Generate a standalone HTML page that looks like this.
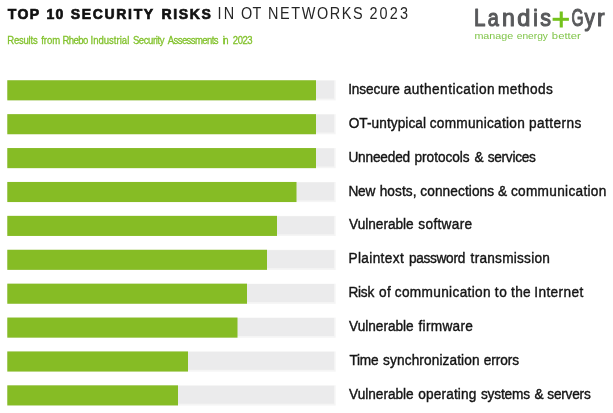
<!DOCTYPE html>
<html><head><meta charset="utf-8"><title>Top 10 Security Risks in OT Networks 2023</title>
<style>
html,body{margin:0;padding:0;background:#fff;}
body{width:613px;height:413px;overflow:hidden;position:relative;font-family:"Liberation Sans",sans-serif;}
svg{position:absolute;left:0;top:0;display:block;will-change:transform}
text{font-family:"Liberation Sans",sans-serif;}
</style></head><body>
<svg width="613" height="413" viewBox="0 0 613 413">

<text transform="translate(7.86,18.85) scale(0.95,1)" font-size="14.8" fill="#111111" letter-spacing="1.45" font-weight="700" stroke="#111111" stroke-width="0.7">TOP</text>
<text transform="translate(46.62,18.85) scale(0.95,1)" font-size="14.8" fill="#111111" letter-spacing="1.16" font-weight="700" stroke="#111111" stroke-width="0.7">10</text>
<text transform="translate(70.81,18.85) scale(0.95,1)" font-size="14.8" fill="#111111" letter-spacing="1.71" font-weight="700" stroke="#111111" stroke-width="0.7">SECURITY</text>
<text transform="translate(161.49,18.85) scale(0.95,1)" font-size="14.8" fill="#111111" letter-spacing="1.72" font-weight="700" stroke="#111111" stroke-width="0.7">RISKS</text>
<text transform="translate(217.50,19.15) scale(0.92,1)" font-size="15.7" fill="#262626" letter-spacing="2.51">IN</text>
<text transform="translate(241.05,19.15) scale(0.92,1)" font-size="15.7" fill="#262626" letter-spacing="0.32">OT</text>
<text transform="translate(267.94,19.15) scale(0.92,1)" font-size="15.7" fill="#262626" letter-spacing="1.76">NETWORKS</text>
<text transform="translate(369.38,19.15) scale(0.92,1)" font-size="15.7" fill="#262626" letter-spacing="2.40">2023</text>
<text transform="translate(7.29,43.60) scale(0.9,1)" font-size="10.6" fill="#83c22e" letter-spacing="-0.26" stroke="#83c22e" stroke-width="0.32">Results</text>
<text transform="translate(41.13,43.60) scale(0.9,1)" font-size="10.6" fill="#83c22e" letter-spacing="-0.02" stroke="#83c22e" stroke-width="0.32">from</text>
<text transform="translate(62.39,43.60) scale(0.9,1)" font-size="10.6" fill="#83c22e" letter-spacing="-0.60" stroke="#83c22e" stroke-width="0.32">Rhebo</text>
<text transform="translate(90.49,43.60) scale(0.9,1)" font-size="10.6" fill="#83c22e" letter-spacing="0.01" stroke="#83c22e" stroke-width="0.32">Industrial</text>
<text transform="translate(132.92,43.60) scale(0.9,1)" font-size="10.6" fill="#83c22e" letter-spacing="-0.47" stroke="#83c22e" stroke-width="0.32">Security</text>
<text transform="translate(167.75,43.60) scale(0.9,1)" font-size="10.6" fill="#83c22e" letter-spacing="-0.65" stroke="#83c22e" stroke-width="0.32">Assessments</text>
<text transform="translate(222.73,43.60) scale(0.9,1)" font-size="10.6" fill="#83c22e" letter-spacing="-1.67" stroke="#83c22e" stroke-width="0.32">in</text>
<text transform="translate(232.87,43.60) scale(0.9,1)" font-size="10.6" fill="#83c22e" letter-spacing="-0.60" stroke="#83c22e" stroke-width="0.32">2023</text>
<text x="474.03" y="26.20" font-size="24.3" fill="#58595b" textLength="11.44" lengthAdjust="spacingAndGlyphs" stroke="#58595b" stroke-width="1.15" stroke-linejoin="round">L</text>
<text x="487.73" y="26.20" font-size="24.3" fill="#58595b" textLength="11.07" lengthAdjust="spacingAndGlyphs" stroke="#58595b" stroke-width="1.15" stroke-linejoin="round">a</text>
<text x="502.08" y="26.20" font-size="24.3" fill="#58595b" textLength="12.81" lengthAdjust="spacingAndGlyphs" stroke="#58595b" stroke-width="1.15" stroke-linejoin="round">n</text>
<text x="517.33" y="26.20" font-size="24.3" fill="#58595b" textLength="13.09" lengthAdjust="spacingAndGlyphs" stroke="#58595b" stroke-width="1.15" stroke-linejoin="round">d</text>
<text x="533.14" y="26.20" font-size="24.3" fill="#58595b" textLength="4.57" lengthAdjust="spacingAndGlyphs" stroke="#58595b" stroke-width="1.15" stroke-linejoin="round">i</text>
<text x="540.18" y="26.20" font-size="24.3" fill="#58595b" textLength="10.74" lengthAdjust="spacingAndGlyphs" stroke="#58595b" stroke-width="1.15" stroke-linejoin="round">s</text>
<text x="571.40" y="26.20" font-size="24.3" fill="#58595b" textLength="12.05" lengthAdjust="spacingAndGlyphs" stroke="#58595b" stroke-width="1.15" stroke-linejoin="round">G</text>
<text x="584.62" y="26.20" font-size="24.3" fill="#58595b" textLength="10.40" lengthAdjust="spacingAndGlyphs" stroke="#58595b" stroke-width="1.15" stroke-linejoin="round">y</text>
<text x="597.09" y="26.20" font-size="24.3" fill="#58595b" textLength="7.58" lengthAdjust="spacingAndGlyphs" stroke="#58595b" stroke-width="1.15" stroke-linejoin="round">r</text>
<rect x="552.6" y="17.8" width="16.3" height="3" fill="#74c21c"/><rect x="559.7" y="11.5" width="3.1" height="16" fill="#74c21c"/>
<text x="474.40" y="39.30" font-size="9.8" fill="#7fc447" textLength="38.87" lengthAdjust="spacingAndGlyphs">manage</text>
<text x="516.77" y="39.30" font-size="9.8" fill="#7fc447" textLength="31.13" lengthAdjust="spacingAndGlyphs">energy</text>
<text x="551.89" y="39.30" font-size="9.8" fill="#7fc447" textLength="28.87" lengthAdjust="spacingAndGlyphs">better</text>
<rect x="7.3" y="80.25" width="328.4" height="20.200000000000003" fill="#f5f5f5"/>
<rect x="7.3" y="80.65" width="326.8" height="18.0" fill="#ebebec"/>
<rect x="7.3" y="80.25" width="308.7" height="20.1" fill="#86bc25"/>
<text transform="translate(348.17,93.80) scale(0.91,1)" font-size="15" fill="#151515" letter-spacing="-0.12" stroke="#151515" stroke-width="0.42">Insecure</text>
<text transform="translate(403.72,93.80) scale(0.91,1)" font-size="15" fill="#151515" letter-spacing="0.50" stroke="#151515" stroke-width="0.42">authentication</text>
<text transform="translate(497.91,93.80) scale(0.91,1)" font-size="15" fill="#151515" letter-spacing="0.48" stroke="#151515" stroke-width="0.42">methods</text>
<rect x="7.3" y="114.15" width="328.4" height="20.200000000000003" fill="#f5f5f5"/>
<rect x="7.3" y="114.55" width="326.8" height="18.0" fill="#ebebec"/>
<rect x="7.3" y="114.15" width="308.7" height="20.1" fill="#86bc25"/>
<text transform="translate(348.69,127.70) scale(0.91,1)" font-size="15" fill="#151515" letter-spacing="0.07" stroke="#151515" stroke-width="0.42">OT-untypical</text>
<text transform="translate(429.72,127.70) scale(0.91,1)" font-size="15" fill="#151515" letter-spacing="0.31" stroke="#151515" stroke-width="0.42">communication</text>
<text transform="translate(529.05,127.70) scale(0.91,1)" font-size="15" fill="#151515" letter-spacing="0.46" stroke="#151515" stroke-width="0.42">patterns</text>
<rect x="7.3" y="148.05" width="328.4" height="20.200000000000003" fill="#f5f5f5"/>
<rect x="7.3" y="148.45" width="326.8" height="18.0" fill="#ebebec"/>
<rect x="7.3" y="148.05" width="308.7" height="20.1" fill="#86bc25"/>
<text transform="translate(348.38,161.60) scale(0.91,1)" font-size="15" fill="#151515" letter-spacing="-0.18" stroke="#151515" stroke-width="0.42">Unneeded</text>
<text transform="translate(414.55,161.60) scale(0.91,1)" font-size="15" fill="#151515" letter-spacing="-0.03" stroke="#151515" stroke-width="0.42">protocols</text>
<text transform="translate(474.52,161.60) scale(0.91,1)" font-size="15" fill="#151515" letter-spacing="-0.03" stroke="#151515" stroke-width="0.42">&amp;</text>
<text transform="translate(487.72,161.60) scale(0.91,1)" font-size="15" fill="#151515" letter-spacing="-0.30" stroke="#151515" stroke-width="0.42">services</text>
<rect x="7.3" y="181.95" width="328.4" height="20.200000000000003" fill="#f5f5f5"/>
<rect x="7.3" y="182.35" width="326.8" height="18.0" fill="#ebebec"/>
<rect x="7.3" y="181.95" width="289.2" height="20.1" fill="#86bc25"/>
<text transform="translate(348.41,195.50) scale(0.91,1)" font-size="15" fill="#151515" letter-spacing="-0.24" stroke="#151515" stroke-width="0.42">New</text>
<text transform="translate(379.68,195.50) scale(0.91,1)" font-size="15" fill="#151515" letter-spacing="0.09" stroke="#151515" stroke-width="0.42">hosts,</text>
<text transform="translate(420.32,195.50) scale(0.91,1)" font-size="15" fill="#151515" letter-spacing="0.11" stroke="#151515" stroke-width="0.42">connections</text>
<text transform="translate(498.02,195.50) scale(0.91,1)" font-size="15" fill="#151515" letter-spacing="-0.03" stroke="#151515" stroke-width="0.42">&amp;</text>
<text transform="translate(510.92,195.50) scale(0.91,1)" font-size="15" fill="#151515" letter-spacing="0.34" stroke="#151515" stroke-width="0.42">communication</text>
<rect x="7.3" y="215.85" width="328.4" height="20.200000000000003" fill="#f5f5f5"/>
<rect x="7.3" y="216.25" width="326.8" height="18.0" fill="#ebebec"/>
<rect x="7.3" y="215.85" width="269.7" height="20.1" fill="#86bc25"/>
<text transform="translate(349.07,229.40) scale(0.91,1)" font-size="15" fill="#151515" letter-spacing="-0.01" stroke="#151515" stroke-width="0.42">Vulnerable</text>
<text transform="translate(418.32,229.40) scale(0.91,1)" font-size="15" fill="#151515" letter-spacing="0.36" stroke="#151515" stroke-width="0.42">software</text>
<rect x="7.3" y="249.75" width="328.4" height="20.200000000000003" fill="#f5f5f5"/>
<rect x="7.3" y="250.15" width="326.8" height="18.0" fill="#ebebec"/>
<rect x="7.3" y="249.75" width="259.7" height="20.1" fill="#86bc25"/>
<text transform="translate(348.41,263.30) scale(0.91,1)" font-size="15" fill="#151515" letter-spacing="0.41" stroke="#151515" stroke-width="0.42">Plaintext</text>
<text transform="translate(408.95,263.30) scale(0.91,1)" font-size="15" fill="#151515" letter-spacing="-0.33" stroke="#151515" stroke-width="0.42">password</text>
<text transform="translate(470.60,263.30) scale(0.91,1)" font-size="15" fill="#151515" letter-spacing="0.27" stroke="#151515" stroke-width="0.42">transmission</text>
<rect x="7.3" y="283.65" width="328.4" height="20.200000000000003" fill="#f5f5f5"/>
<rect x="7.3" y="284.05" width="326.8" height="18.0" fill="#ebebec"/>
<rect x="7.3" y="283.65" width="239.7" height="20.1" fill="#86bc25"/>
<text transform="translate(348.51,297.20) scale(0.91,1)" font-size="15" fill="#151515" letter-spacing="-0.29" stroke="#151515" stroke-width="0.42">Risk</text>
<text transform="translate(378.95,297.20) scale(0.91,1)" font-size="15" fill="#151515" letter-spacing="0.38" stroke="#151515" stroke-width="0.42">of</text>
<text transform="translate(394.72,297.20) scale(0.91,1)" font-size="15" fill="#151515" letter-spacing="0.38" stroke="#151515" stroke-width="0.42">communication</text>
<text transform="translate(494.80,297.20) scale(0.91,1)" font-size="15" fill="#151515" letter-spacing="0.86" stroke="#151515" stroke-width="0.42">to</text>
<text transform="translate(511.10,297.20) scale(0.91,1)" font-size="15" fill="#151515" letter-spacing="0.28" stroke="#151515" stroke-width="0.42">the</text>
<text transform="translate(534.17,297.20) scale(0.91,1)" font-size="15" fill="#151515" letter-spacing="0.46" stroke="#151515" stroke-width="0.42">Internet</text>
<rect x="7.3" y="317.55" width="328.4" height="20.200000000000003" fill="#f5f5f5"/>
<rect x="7.3" y="317.95" width="326.8" height="18.0" fill="#ebebec"/>
<rect x="7.3" y="317.55" width="230.2" height="20.1" fill="#86bc25"/>
<text transform="translate(349.07,331.10) scale(0.91,1)" font-size="15" fill="#151515" letter-spacing="-0.01" stroke="#151515" stroke-width="0.42">Vulnerable</text>
<text transform="translate(418.53,331.10) scale(0.91,1)" font-size="15" fill="#151515" letter-spacing="0.32" stroke="#151515" stroke-width="0.42">firmware</text>
<rect x="7.3" y="351.45" width="328.4" height="20.200000000000003" fill="#f5f5f5"/>
<rect x="7.3" y="351.85" width="326.8" height="18.0" fill="#ebebec"/>
<rect x="7.3" y="351.45" width="180.7" height="20.1" fill="#86bc25"/>
<text transform="translate(349.43,365.00) scale(0.91,1)" font-size="15" fill="#151515" letter-spacing="-0.25" stroke="#151515" stroke-width="0.42">Time</text>
<text transform="translate(383.12,365.00) scale(0.91,1)" font-size="15" fill="#151515" letter-spacing="0.13" stroke="#151515" stroke-width="0.42">synchronization</text>
<text transform="translate(483.82,365.00) scale(0.91,1)" font-size="15" fill="#151515" letter-spacing="-0.09" stroke="#151515" stroke-width="0.42">errors</text>
<rect x="7.3" y="385.35" width="328.4" height="20.200000000000003" fill="#f5f5f5"/>
<rect x="7.3" y="385.75" width="326.8" height="18.0" fill="#ebebec"/>
<rect x="7.3" y="385.35" width="170.7" height="20.1" fill="#86bc25"/>
<text transform="translate(349.07,398.90) scale(0.91,1)" font-size="15" fill="#151515" letter-spacing="-0.01" stroke="#151515" stroke-width="0.42">Vulnerable</text>
<text transform="translate(418.15,398.90) scale(0.91,1)" font-size="15" fill="#151515" letter-spacing="0.19" stroke="#151515" stroke-width="0.42">operating</text>
<text transform="translate(480.92,398.90) scale(0.91,1)" font-size="15" fill="#151515" letter-spacing="-0.17" stroke="#151515" stroke-width="0.42">systems</text>
<text transform="translate(534.42,398.90) scale(0.91,1)" font-size="15" fill="#151515" letter-spacing="-0.58" stroke="#151515" stroke-width="0.42">&amp;</text>
<text transform="translate(547.32,398.90) scale(0.91,1)" font-size="15" fill="#151515" letter-spacing="-0.24" stroke="#151515" stroke-width="0.42">servers</text>
</svg></body></html>
